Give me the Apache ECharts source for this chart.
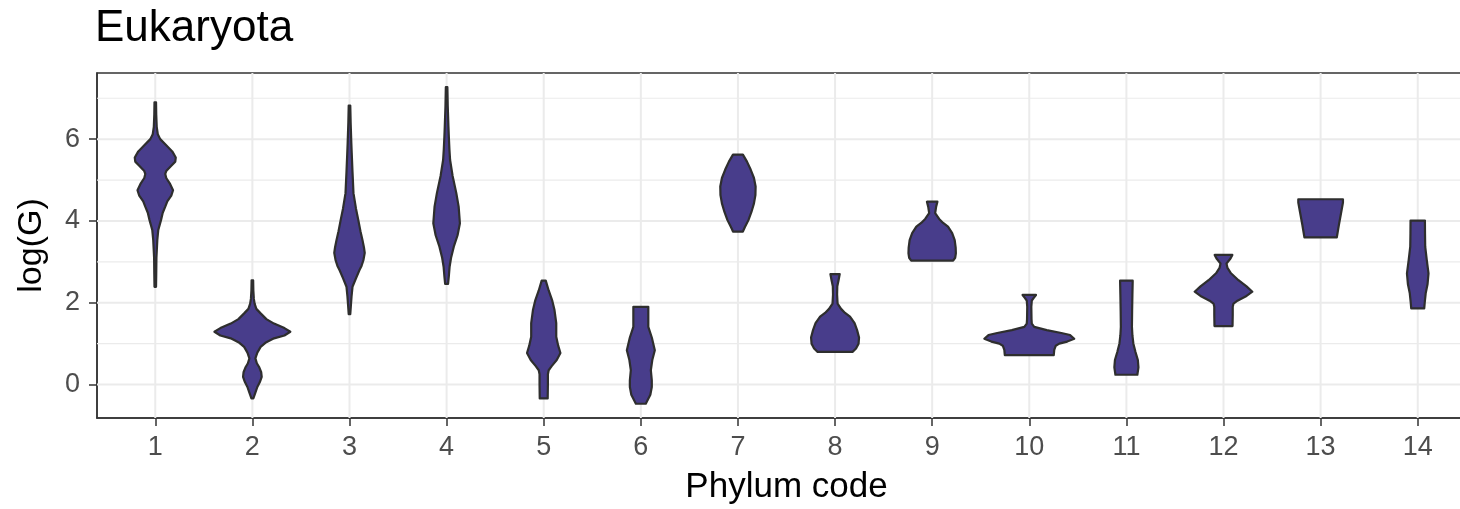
<!DOCTYPE html>
<html>
<head>
<meta charset="utf-8">
<title>Eukaryota</title>
<script src="https://cdn.jsdelivr.net/npm/echarts@6/dist/echarts.min.js"></script>
<style>
  html, body { margin: 0; padding: 0; background: #fff; }
  #chart { width: 1460px; height: 509px; }
</style>
</head>
<body>
<div id="chart"></div>
<script>
// phylum codes on the x axis
const phyla = [1, 2, 3, 4, 5, 6, 7, 8, 9, 10, 11, 12, 13, 14]
const yMajor = [0, 2, 4, 6]
const yMinor = [1, 3, 5, 7]

// violin outlines, top to bottom: [log(G), half width in category units]
const violin1 = [[6.90, 0.008], [6.6, 0.010], [6.3, 0.015], [6.12, 0.026], [6.0, 0.051], [5.85, 0.113], [5.7, 0.175], [5.55, 0.211], [5.45, 0.206], [5.35, 0.165], [5.22, 0.113], [5.15, 0.103], [5.05, 0.113], [4.92, 0.149], [4.75, 0.183], [4.62, 0.165], [4.48, 0.124], [4.35, 0.103], [4.2, 0.077], [4.02, 0.059], [3.78, 0.031], [3.53, 0.021], [3.1, 0.012], [2.7, 0.010], [2.39, 0.008]]
const violin2 = [[2.55, 0.008], [2.3, 0.010], [2.1, 0.015], [1.98, 0.023], [1.85, 0.041], [1.74, 0.085], [1.6, 0.144], [1.49, 0.223], [1.38, 0.330], [1.29, 0.391], [1.2, 0.330], [1.13, 0.223], [1.02, 0.134], [0.92, 0.085], [0.78, 0.051], [0.64, 0.031], [0.52, 0.046], [0.43, 0.069], [0.3, 0.091], [0.19, 0.096], [0.06, 0.077], [-0.06, 0.051], [-0.2, 0.031], [-0.34, 0.010]]
const violin3 = [[6.82, 0.008], [6.4, 0.012], [5.9, 0.019], [5.66, 0.023], [5.2, 0.031], [4.68, 0.041], [4.3, 0.067], [4.02, 0.091], [3.75, 0.113], [3.53, 0.134], [3.35, 0.149], [3.22, 0.157], [3.05, 0.144], [2.9, 0.124], [2.8, 0.103], [2.6, 0.067], [2.39, 0.031], [2.15, 0.021], [1.95, 0.015], [1.72, 0.008]]
const violin4 = [[7.27, 0.008], [6.8, 0.012], [6.3, 0.019], [6.06, 0.023], [5.75, 0.029], [5.49, 0.036], [5.1, 0.062], [4.68, 0.100], [4.35, 0.124], [3.94, 0.137], [3.65, 0.113], [3.37, 0.074], [3.1, 0.046], [2.88, 0.031], [2.65, 0.023], [2.46, 0.015]]
const violin5 = [[2.54, 0.021], [2.3, 0.051], [2.05, 0.088], [1.82, 0.111], [1.5, 0.129], [1.17, 0.129], [0.95, 0.149], [0.77, 0.172], [0.6, 0.134], [0.45, 0.082], [0.35, 0.051], [0.25, 0.043], [0.0, 0.043], [-0.34, 0.041]]
const violin6 = [[1.90, 0.077], [1.7, 0.077], [1.41, 0.077], [1.15, 0.113], [0.84, 0.144], [0.6, 0.118], [0.35, 0.103], [0.1, 0.113], [-0.06, 0.113], [-0.25, 0.098], [-0.47, 0.051]]
const violin7 = [[5.62, 0.051], [5.45, 0.093], [5.25, 0.132], [5.05, 0.165], [4.84, 0.182], [4.63, 0.180], [4.43, 0.165], [4.22, 0.139], [4.02, 0.108], [3.85, 0.072], [3.74, 0.051]]
const violin8 = [[2.70, 0.048], [2.55, 0.036], [2.4, 0.023], [2.2, 0.021], [1.98, 0.026], [1.85, 0.062], [1.75, 0.103], [1.66, 0.154], [1.5, 0.201], [1.33, 0.227], [1.15, 0.247], [1.0, 0.242], [0.88, 0.216], [0.80, 0.180]]
const violin9 = [[4.47, 0.054], [4.35, 0.041], [4.19, 0.031], [4.05, 0.072], [3.95, 0.113], [3.86, 0.163], [3.7, 0.206], [3.53, 0.232], [3.35, 0.242], [3.21, 0.244], [3.1, 0.237], [3.03, 0.216]]
const violin10 = [[2.19, 0.069], [2.12, 0.046], [2.05, 0.026], [1.9, 0.021], [1.6, 0.023], [1.49, 0.026], [1.41, 0.051], [1.33, 0.180], [1.26, 0.330], [1.21, 0.420], [1.12, 0.463], [1.05, 0.391], [1.0, 0.309], [0.95, 0.273], [0.85, 0.257], [0.72, 0.252]]
const violin11 = [[2.54, 0.065], [2.2, 0.062], [1.8, 0.059], [1.41, 0.057], [1.2, 0.062], [1.0, 0.072], [0.8, 0.093], [0.6, 0.118], [0.42, 0.124], [0.24, 0.113]]
const violin12 = [[3.17, 0.091], [3.08, 0.072], [2.96, 0.031], [2.85, 0.041], [2.72, 0.077], [2.55, 0.154], [2.4, 0.237], [2.27, 0.297], [2.15, 0.227], [2.05, 0.144], [1.98, 0.103], [1.90, 0.095], [1.7, 0.095], [1.43, 0.093]]
const violin13 = [[4.53, 0.230], [4.45, 0.230], [4.2, 0.211], [3.9, 0.188], [3.60, 0.167]]
const violin14 = [[4.01, 0.074], [3.7, 0.075], [3.37, 0.077], [3.05, 0.093], [2.72, 0.111], [2.45, 0.101], [2.23, 0.082], [2.0, 0.072], [1.86, 0.067]]

const violins = [violin1, violin2, violin3, violin4, violin5, violin6, violin7,
  violin8, violin9, violin10, violin11, violin12, violin13, violin14]

const font = 'Liberation Sans, Arial, Helvetica, sans-serif'
const gridColor = '#EBEBEB'

const chart = echarts.init(document.getElementById('chart'))

const option = {
  animation: false,
  backgroundColor: '#fff',
  title: {
    text: 'Eukaryota',
    left: 95,
    top: 7,
    padding: 0,
    textStyle: { fontFamily: font, fontSize: 44, fontWeight: 'normal', color: '#000' }
  },
  // the panel runs on past the right edge of the picture
  grid: {
    left: 97,
    width: 1379,
    top: 73,
    bottom: 91,
    outerBoundsMode: 'none',
    containLabel: false,
    show: true,
    borderColor: '#333',
    borderWidth: 1.5,
    backgroundColor: '#fff'
  },
  xAxis: {
    type: 'value',
    min: 0.4,
    max: 14.6,
    name: 'Phylum code',
    nameLocation: 'middle',
    nameGap: 52,
    nameTextStyle: { fontFamily: font, fontSize: 35, color: '#000' },
    axisLine: { show: true, onZero: false, lineStyle: { color: '#333', width: 1.5 } },
    axisTick: { show: true, length: 8, customValues: phyla, lineStyle: { color: '#333', width: 1.5 } },
    axisLabel: { customValues: phyla, fontFamily: font, fontSize: 27, color: '#4D4D4D', margin: 16 },
    splitLine: { show: false }
  },
  yAxis: {
    type: 'value',
    min: -0.818,
    max: 7.617,
    name: 'log(G)',
    nameLocation: 'middle',
    nameGap: 48,
    nameRotate: 90,
    nameTextStyle: { fontFamily: font, fontSize: 34, color: '#000' },
    axisLine: { show: true, onZero: false, lineStyle: { color: '#333', width: 1.5 } },
    axisTick: { show: true, length: 8, customValues: yMajor, lineStyle: { color: '#333', width: 1.5 } },
    axisLabel: { customValues: yMajor, fontFamily: font, fontSize: 27, color: '#4D4D4D', margin: 17 },
    splitLine: { show: false }
  },
  series: [
    {
      // horizontal grid lines
      type: 'custom',
      silent: true,
      z: 1,
      data: yMajor.map(v => [1, v, 1]).concat(yMinor.map(v => [1, v, 0])),
      encode: { x: 0, y: 1 },
      renderItem: (params, api) => {
        const cs = params.coordSys
        const y = api.coord([api.value(0), api.value(1)])[1]
        return {
          type: 'line',
          shape: { x1: cs.x, y1: y, x2: cs.x + cs.width, y2: y },
          style: { stroke: gridColor, lineWidth: api.value(2) ? 2 : 1.2 }
        }
      }
    },
    {
      // vertical grid lines at each phylum
      type: 'custom',
      silent: true,
      z: 1,
      data: phyla.map(p => [p, 0]),
      encode: { x: 0, y: 1 },
      renderItem: (params, api) => {
        const cs = params.coordSys
        const x = api.coord([api.value(0), 0])[0]
        return {
          type: 'line',
          shape: { x1: x, y1: cs.y, x2: x, y2: cs.y + cs.height },
          style: { stroke: gridColor, lineWidth: 2 }
        }
      }
    },
    {
      type: 'custom',
      z: 3,
      data: phyla.map((p, i) => [p, violins[i][0][0]]),
      encode: { x: 0, y: 1 },
      renderItem: (params, api) => {
        const x = api.value(0)
        const prof = violins[params.dataIndex]
        const right = prof.map(([y, w]) => api.coord([x + w, y]))
        const left = prof.slice().reverse().map(([y, w]) => api.coord([x - w, y]))
        return {
          type: 'polygon',
          shape: { points: right.concat(left) },
          style: { fill: '#483D8B', stroke: '#2e2e2e', lineWidth: 2.2, lineJoin: 'round' }
        }
      }
    }
  ]
}

chart.setOption(option)
</script>
</body>
</html>
